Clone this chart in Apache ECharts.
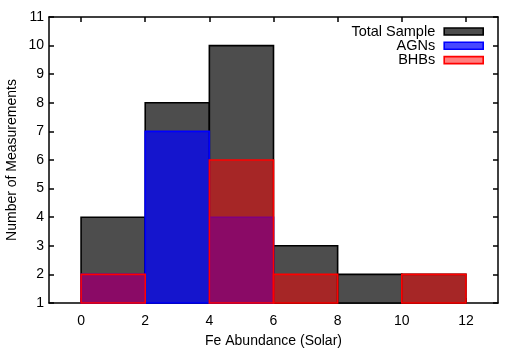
<!DOCTYPE html>
<html><head><meta charset="utf-8">
<script src="https://cdn.jsdelivr.net/npm/echarts@6/dist/echarts.min.js"></script>
<style>html,body{margin:0;padding:0;background:#fff}#c{width:523px;height:349px}</style>
</head><body><div id="c"></div>
<script>
const binStarts = [0, 2, 4, 6, 8, 10];
const binWidth = 2;
const totalCounts = [4, 8, 10, 3, 2, 2];
const agnCounts = [2, 7, 4, 0, 0, 0];
const bhbCounts = [2, 0, 6, 2, 0, 2];
const xTicks = [0, 2, 4, 6, 8, 10, 12];
const yMin = 1, yMax = 11;
const xMin = -1, xMax = 13;
const FONT = 'Liberation Sans';
const FS = 14;

function mk(counts) { return binStarts.map((s, i) => [s, s + binWidth, counts[i]]); }
function rend(fill, stroke) {
  return function (params, api) {
    const y = api.value(2);
    if (y <= yMin) return null;
    const p0 = api.coord([api.value(0), yMin]);
    const p1 = api.coord([api.value(1), y]);
    return { type: 'rect', shape: { x: p0[0], y: p1[1], width: p1[0] - p0[0], height: p0[1] - p1[1] },
      style: { fill: fill, stroke: stroke, lineWidth: 1.6 } };
  };
}
const styles = {
  'Total Sample': { fill: '#4d4d4d', stroke: '#000000' },
  'AGNs': { fill: 'rgba(0,0,255,0.72)', stroke: '#0000ff' },
  'BHBs': { fill: 'rgba(255,0,0,0.5)', stroke: '#ff0000' }
};
const names = ['Total Sample', 'AGNs', 'BHBs'];
const counts = [totalCounts, agnCounts, bhbCounts];

const chart = echarts.init(document.getElementById('c'));
const lineSt = { show: true, onZero: false, lineStyle: { color: '#000', width: 1.5 } };
const tickSt = { show: true, inside: true, length: 5, lineStyle: { color: '#000', width: 1.5 } };
chart.setOption({
  animation: false,
  grid: { left: 49, right: 25, top: 17, bottom: 46, containLabel: false, outerBoundsMode: 'none' },
  legend: names.map((n, i) => ({
    right: 39, top: 24 + i * 14.3, orient: 'vertical', align: 'right', itemWidth: 39, itemHeight: 7, itemGap: 0,
    icon: 'rect', textStyle: { fontFamily: FONT, fontSize: 14.5, color: '#000', padding: [0, 4, 0, 0] },
    padding: 0,
    data: [{ name: n, itemStyle: { color: styles[n].fill, borderColor: styles[n].stroke, borderWidth: 1.6 } }],
    selectedMode: false
  })),
  xAxis: [
    { type: 'value', min: xMin, max: xMax, position: 'bottom',
      name: 'Fe Abundance (Solar)', nameLocation: 'middle', nameGap: 31,
      nameTextStyle: { fontFamily: FONT, fontSize: FS, color: '#000' },
      axisLine: lineSt, splitLine: { show: false },
      axisLabel: { fontFamily: FONT, fontSize: FS, color: '#000', margin: 11, customValues: xTicks },
      axisTick: Object.assign({ customValues: xTicks }, tickSt) },
    { type: 'value', min: xMin, max: xMax, position: 'top', axisLine: lineSt,
      axisLabel: { show: false }, splitLine: { show: false },
      axisTick: Object.assign({ customValues: xTicks }, tickSt) }
  ],
  yAxis: [
    { type: 'value', min: yMin, max: yMax, interval: 1, position: 'left',
      name: 'Number of Measurements', nameLocation: 'middle', nameGap: 30, nameMoveOverlap: false,
      nameTextStyle: { fontFamily: FONT, fontSize: FS, color: '#000' },
      axisLine: lineSt, axisTick: tickSt, splitLine: { show: false },
      axisLabel: { fontFamily: FONT, fontSize: FS, color: '#000', margin: 5 } },
    { type: 'value', min: yMin, max: yMax, interval: 1, position: 'right',
      axisLine: lineSt, axisTick: tickSt, splitLine: { show: false },
      axisLabel: { show: false } }
  ],
  series: names.map((n, i) => ({
    name: n, type: 'custom', xAxisIndex: 0, yAxisIndex: 0,
    renderItem: rend(styles[n].fill, styles[n].stroke),
    encode: { x: [0, 1], y: 2 },
    itemStyle: { color: styles[n].fill, borderColor: styles[n].stroke },
    data: mk(counts[i]), z: 2 + i
  }))
});
</script></body></html>
